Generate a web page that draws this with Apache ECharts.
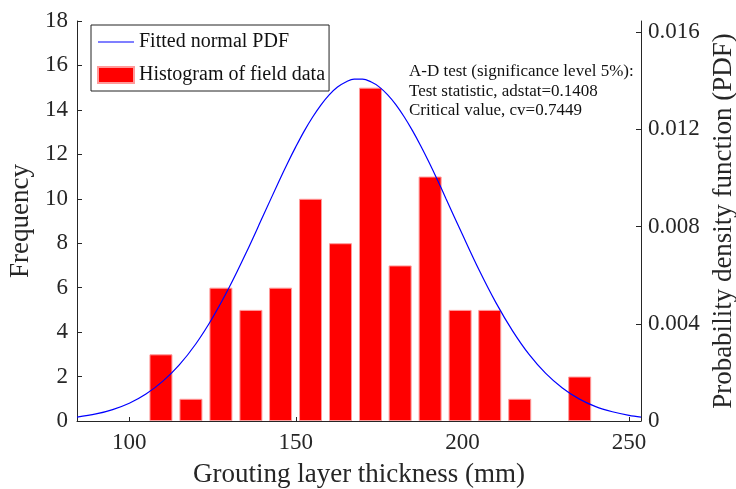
<!DOCTYPE html>
<html>
<head>
<meta charset="utf-8">
<script src="https://cdn.jsdelivr.net/npm/echarts@6/dist/echarts.min.js"></script>
<style>
  html, body { margin: 0; padding: 0; background: #fff; }
  #main { width: 736px; height: 489px; }
</style>
</head>
<body>
<div id="main"></div>
<script>
// histogram bins (bin centres, mm) and counts
var binCenters = [109.5, 118.5, 127.5, 136.5, 145.4, 154.4, 163.4, 172.4, 181.3, 190.3, 199.3, 208.2, 217.2, 235.2];
var binCounts  = [3, 1, 6, 5, 6, 10, 8, 15, 7, 11, 5, 5, 1, 2];

// fitted normal PDF
var pdfX = [84.3, 90, 95, 100, 105, 110, 115, 120, 125, 130, 135, 140, 145, 147.5, 150, 152.5, 155, 157.5,
            160, 162.5, 165, 167.5, 170, 172.5, 175, 177.5, 180, 182.5, 185, 187.5, 190, 192.5,
            195, 200, 205, 210, 215, 220, 225, 230, 235, 240, 245, 250, 253.6];
var pdfY = [0.00016, 0.00029, 0.00047, 0.00073, 0.00111, 0.00163, 0.00231, 0.00318, 0.00425, 0.0055,
            0.0069, 0.00839, 0.00989, 0.01061, 0.01129, 0.01193, 0.0125, 0.013,
            0.01342, 0.01374, 0.01395, 0.01407, 0.01407, 0.01396, 0.01375, 0.01343, 0.01302, 0.01252,
            0.01195, 0.01132, 0.01064, 0.00992,
            0.00917, 0.00767, 0.00621, 0.00488, 0.00372, 0.00274, 0.00196, 0.00136,
            0.00091, 0.00059, 0.00038, 0.00023, 0.00016];

var xTicks = [100, 150, 200, 250];
var pdfTicks = [0, 0.004, 0.008, 0.012, 0.016];

var chart = echarts.init(document.getElementById('main'));
var font = 'Liberation Serif';
var ink = '#262626';

var option = {
    animation: false,
    textStyle: { fontFamily: font, color: ink },
    grid: { left: 77, right: 95, top: 21, bottom: 68, outerBoundsMode: 'none', containLabel: false },
    legend: {
        orient: 'vertical',
        left: 91,
        top: 25,
        padding: [7, 4, 6, 6],
        itemGap: 13,
        itemWidth: 36,
        itemHeight: 16,
        borderColor: '#222',
        borderWidth: 1,
        backgroundColor: '#fff',
        textStyle: { fontFamily: font, fontSize: 20, color: '#111' },
        data: [
            // thin bar icon so the legend shows a plain line
            { name: 'Fitted normal PDF', icon: 'path://M0,0H300V10H0Z' },
            { name: 'Histogram of field data', icon: 'rect' }
        ]
    },
    graphic: [{
        type: 'text',
        left: 409,
        top: 62,
        style: {
            text: 'A-D test (significance level 5%):\nTest statistic, adstat=0.1408\nCritical value, cv=0.7449',
            font: '17px "Liberation Serif"',
            lineHeight: 19.5,
            fill: '#111'
        }
    }],
    xAxis: {
        type: 'value',
        min: 84.3,
        max: 253.6,
        name: 'Grouting layer thickness (mm)',
        nameLocation: 'middle',
        nameGap: 40,
        nameTextStyle: { fontFamily: font, fontSize: 27, color: ink },
        axisLine: { show: true, lineStyle: { color: ink, width: 1 } },
        axisTick: { show: true, inside: true, length: 4, customValues: xTicks, lineStyle: { color: ink } },
        axisLabel: { customValues: xTicks, fontFamily: font, fontSize: 23, color: ink, margin: 10 },
        splitLine: { show: false }
    },
    yAxis: [{
        type: 'value',
        min: 0,
        max: 18,
        interval: 2,
        name: 'Frequency',
        nameLocation: 'middle',
        nameGap: 38,
        nameTextStyle: { fontFamily: font, fontSize: 27, color: ink },
        axisLine: { show: true, lineStyle: { color: ink, width: 1 } },
        axisTick: { show: true, inside: true, length: 5, lineStyle: { color: ink } },
        axisLabel: { fontFamily: font, fontSize: 23, color: ink, margin: 9 },
        splitLine: { show: false }
    }, {
        type: 'value',
        position: 'right',
        min: 0,
        max: 0.01646,
        name: 'Probability density function (PDF)',
        nameLocation: 'middle',
        nameGap: 57,
        nameTextStyle: { fontFamily: font, fontSize: 27, color: ink },
        axisLine: { show: true, lineStyle: { color: ink, width: 1 } },
        axisTick: { show: true, inside: true, length: 5, customValues: pdfTicks, lineStyle: { color: ink } },
        axisLabel: {
            customValues: pdfTicks,
            fontFamily: font, fontSize: 23, color: ink, margin: 7,
            formatter: function (v) { return v === 0 ? '0' : v.toFixed(3); }
        },
        splitLine: { show: false }
    }],
    series: [{
        name: 'Histogram of field data',
        type: 'bar',
        yAxisIndex: 0,
        barWidth: 23,
        itemStyle: { color: '#ff0000', borderColor: '#ff9a9a', borderWidth: 1 },
        data: binCenters.map(function (x, i) { return [x, binCounts[i]]; })
    }, {
        name: 'Fitted normal PDF',
        type: 'line',
        yAxisIndex: 1,
        smooth: 0.35,
        symbol: 'none',
        lineStyle: { color: '#0000ff', width: 1.2 },
        itemStyle: { color: '#0000ff' },
        z: 3,
        data: pdfX.map(function (x, i) { return [x, pdfY[i]]; })
    }]
};

chart.setOption(option);
</script>
</body>
</html>
